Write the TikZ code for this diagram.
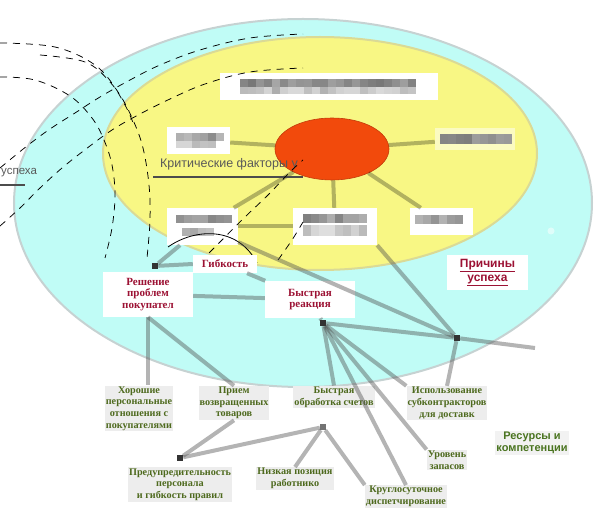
\documentclass[tikz,border=0pt]{standalone}
\usepackage{fontspec}
\setmainfont{Liberation Serif}
\setsansfont{Liberation Sans}
\usetikzlibrary{positioning,shapes.geometric}

\definecolor{ringcyan}{HTML}{C0FCF6}
\definecolor{ringedge}{HTML}{C6D2D2}
\definecolor{coreyellow}{HTML}{F8F784}
\definecolor{yellowedge}{HTML}{DADA96}
\definecolor{hotred}{HTML}{F24A0C}
\definecolor{darkred}{HTML}{9C1234}
\definecolor{olive}{HTML}{4E6A1E}
\definecolor{resgreen}{HTML}{4A7420}

% one row of blurred "text" blocks: x1, x2, xlast, y, base tone, height
\newcommand\smudgerow[6]{%
  \foreach \px in {#1,#2,...,#3}{%
    \pgfmathsetmacro\smtone{#5+int(rnd*20)}%
    \fill[black!\smtone] (\px,#4) rectangle ++(8,#6);}}

\tikzset{
  blurbox/.style={fill=white, inner sep=0pt},
  redlabel/.style={fill=white, text=darkred, font=\bfseries\fontsize{11}{11.5}\selectfont, align=center, inner sep=0pt},
  greenlabel/.style={fill=black!7, text=olive, font=\bfseries\fontsize{10.2}{11.7}\selectfont, align=center, inner sep=1pt},
  spoke/.style={draw=black, draw opacity=0.28, line width=4pt},
  link/.style={draw=black!70, draw opacity=0.42, line width=4pt},
  dashcurve/.style={black, line width=0.75pt, dash pattern=on 7pt off 6pt},
  joint/.style={fill=black!80, minimum size=6pt, inner sep=0pt},
}

\begin{document}
\begin{tikzpicture}[x=1pt,y=-1pt]
\pgfmathsetseed{11}
\useasboundingbox (0,0) rectangle (595,518);

% rings
\draw[ringedge, line width=2pt, fill=ringcyan] (303,203) ellipse [x radius=289, y radius=184];
\draw[yellowedge, line width=2pt, fill=coreyellow] (320,153.5) ellipse [x radius=217, y radius=116.5];
\node (glint) [circle, fill=white, fill opacity=0.5, minimum size=7pt, inner sep=0pt] at (551,231) {};

% factor boxes (text unreadable)
\node (topbox) [blurbox, minimum width=218pt, minimum height=27pt] at (329,86.5) {};
\node (leftbox) [blurbox, minimum width=63pt, minimum height=27pt] at (198.5,140.5) {};
\node (rightbox) [blurbox, fill opacity=0.5, minimum width=80pt, minimum height=22pt] at (475,139) {};
\node (llbox) [blurbox, minimum width=71pt, minimum height=37pt] at (202.5,226.5) {};
\node (cbox) [blurbox, minimum width=84pt, minimum height=37pt] at (335,226.5) {};
\node (lrbox) [blurbox, minimum width=63pt, minimum height=27pt] at (441.5,221.5) {};

\node (core) [ellipse, fill=hotred, draw=hotred!80!black, line width=0.6pt, minimum width=114pt, minimum height=62pt, inner sep=0pt] at (332,149) {};

% spokes
\draw[spoke] (core) -- (leftbox);
\draw[spoke] (core) -- (rightbox);
\draw[spoke] (core) -- (llbox);
\draw[spoke] (core) -- (cbox);
\draw[spoke] (core) -- (lrbox);
\draw[spoke] (llbox) -- (cbox);

% blurred text
\smudgerow{240}{248}{408}{79}{35}{8}
\smudgerow{240}{248}{408}{87}{14}{7}
\smudgerow{176}{184}{216}{133}{28}{8}
\smudgerow{176}{184}{208}{141}{14}{7}
\smudgerow{440}{448}{504}{134}{35}{10}
\smudgerow{176}{184}{224}{215}{32}{8}
\smudgerow{182}{190}{206}{228}{22}{8}
\smudgerow{303}{311}{359}{214}{32}{9}
\smudgerow{303}{311}{359}{225}{10}{11}
\smudgerow{415}{423}{455}{215}{30}{9}

% critical factors caption
\node (crit) [anchor=base west, font=\sffamily\fontsize{12.5}{14}\selectfont, text=black!65, inner sep=0pt] at (160,168) {Критические факторы у};
\draw[black!70, line width=1.2pt] (153,177) -- (303,177);
\node (succ) [anchor=base west, font=\sffamily\fontsize{11.5}{14}\selectfont, text=black!65, inner sep=0pt] at (1,175) {успеха};
\draw[black!70, line width=1.2pt] (0,185) -- (25,185);

% dashed callout curves
\draw[dashcurve] plot[smooth, tension=0.6] coordinates {(0,43) (55,47) (95,65) (118,92) (133,120) (143,148) (149,185) (150,220) (147,258)};
\draw[dashcurve] plot[smooth, tension=0.6] coordinates {(40,55) (85,62) (110,82) (125,105) (134,125)};
\draw[dashcurve] plot[smooth, tension=0.6] coordinates {(0,77) (35,80) (70,96) (92,118) (104,140) (112,165) (115,195) (112,228) (105,258)};
\draw[dashcurve] plot[smooth, tension=0.6] coordinates {(0,168) (27,146) (50,129) (75,113) (100,97) (130,80) (160,65) (200,50) (250,38) (303,34)};
\draw[dashcurve] plot[smooth, tension=0.6] coordinates {(0,226) (20,208) (40,188) (62,168) (86,149) (112,130) (140,114) (170,99) (205,84) (250,72) (303,68)};
\draw[dashcurve] plot[smooth, tension=0.6] coordinates {(200,262) (222,240) (245,217) (268,195) (290,172) (303,160)};
\draw[dashcurve] plot[smooth, tension=0.6] coordinates {(278,260) (292,240) (303,222)};
\draw[black, line width=0.8pt] (168,247) .. controls (195,228) and (238,226) .. (257,263);

% capabilities
\node (flex) [redlabel, minimum width=64pt, minimum height=18pt] at (225,264) {Гибкость};
\node (solve) [redlabel, minimum width=90pt, minimum height=45pt] at (148,294.5) {Решение\\проблем\\покупател};
\node (react) [redlabel, minimum width=90pt, minimum height=37pt] at (310,299.5) {Быстрая\\реакция};
\node (why) [fill=white, text=darkred, font=\sffamily\bfseries\fontsize{12}{13.5}\selectfont, align=center, minimum width=81pt, minimum height=35pt, inner sep=0pt] at (487.5,272.5) {\underline{Причины}\\\underline{успеха}};

% resources
\node (good) [greenlabel] at (139,408.5) {Хорошие\\персональные\\отношения с\\покупателями};
\node (returns) [greenlabel] at (234,403) {Прием\\возвращенных\\товаров};
\node (billing) [greenlabel] at (334,397) {Быстрая\\обработка счетов};
\node (subcon) [greenlabel] at (447,403) {Использование\\субконтракторов\\для доставк};
\node (polite) [greenlabel] at (180,484.5) {Предупредительность\\персонала\\и гибкость правил};
\node (lowpos) [greenlabel] at (295,478.5) {Низкая позиция\\работнико};
\node (allday) [greenlabel] at (406,496.5) {Круглосуточное\\диспетчирование};
\node (stock) [greenlabel] at (447,460) {Уровень\\запасов};
\node (res) [text=resgreen, font=\sffamily\bfseries\fontsize{11}{12.5}\selectfont, align=center, fill=black!5, inner sep=1pt] at (532,443) {Ресурсы и\\компетенции};

% joints
\node (jA) [joint] at (323,323) {};
\node (jB) [joint] at (457,338) {};
\node (jC) [joint] at (155,266) {};
\node (jD) [joint] at (180,458) {};
\node (jE) [joint, fill=black!55] at (323,427) {};
\coordinate (resend) at (535,348);

% links
\draw[link] (solve.south) -- (solve.south |- good.north);
\draw[link] (solve.south) -- (returns.north);
\draw[link] (jC) -- (flex.west);
\draw[link] (jC) -- (llbox);
\draw[link] (solve) -- (react);
\draw[link] (flex) -- (react);
\draw[link] (llbox) -- (jB);
\draw[link] (cbox.south east) -- (jB);
\draw[link] (react) -- (jA);
\draw[link] (jA) -- (jB);
\draw[link] (jA) -- (billing.north);
\draw[link] (jA) -- (subcon.north west);
\draw[link] (jA) -- (stock.north west);
\draw[link] (jA) -- (allday.north);
\draw[link] (jB) -- (subcon.north);
\draw[link] (jB) -- (resend);
\draw[link] (jD) -- (returns.south);
\draw[link] (jD) -- (jE);
\draw[link] (jE) -- (lowpos.north);
\draw[link] (jE) -- (allday.north west);
\end{tikzpicture}
\end{document}
